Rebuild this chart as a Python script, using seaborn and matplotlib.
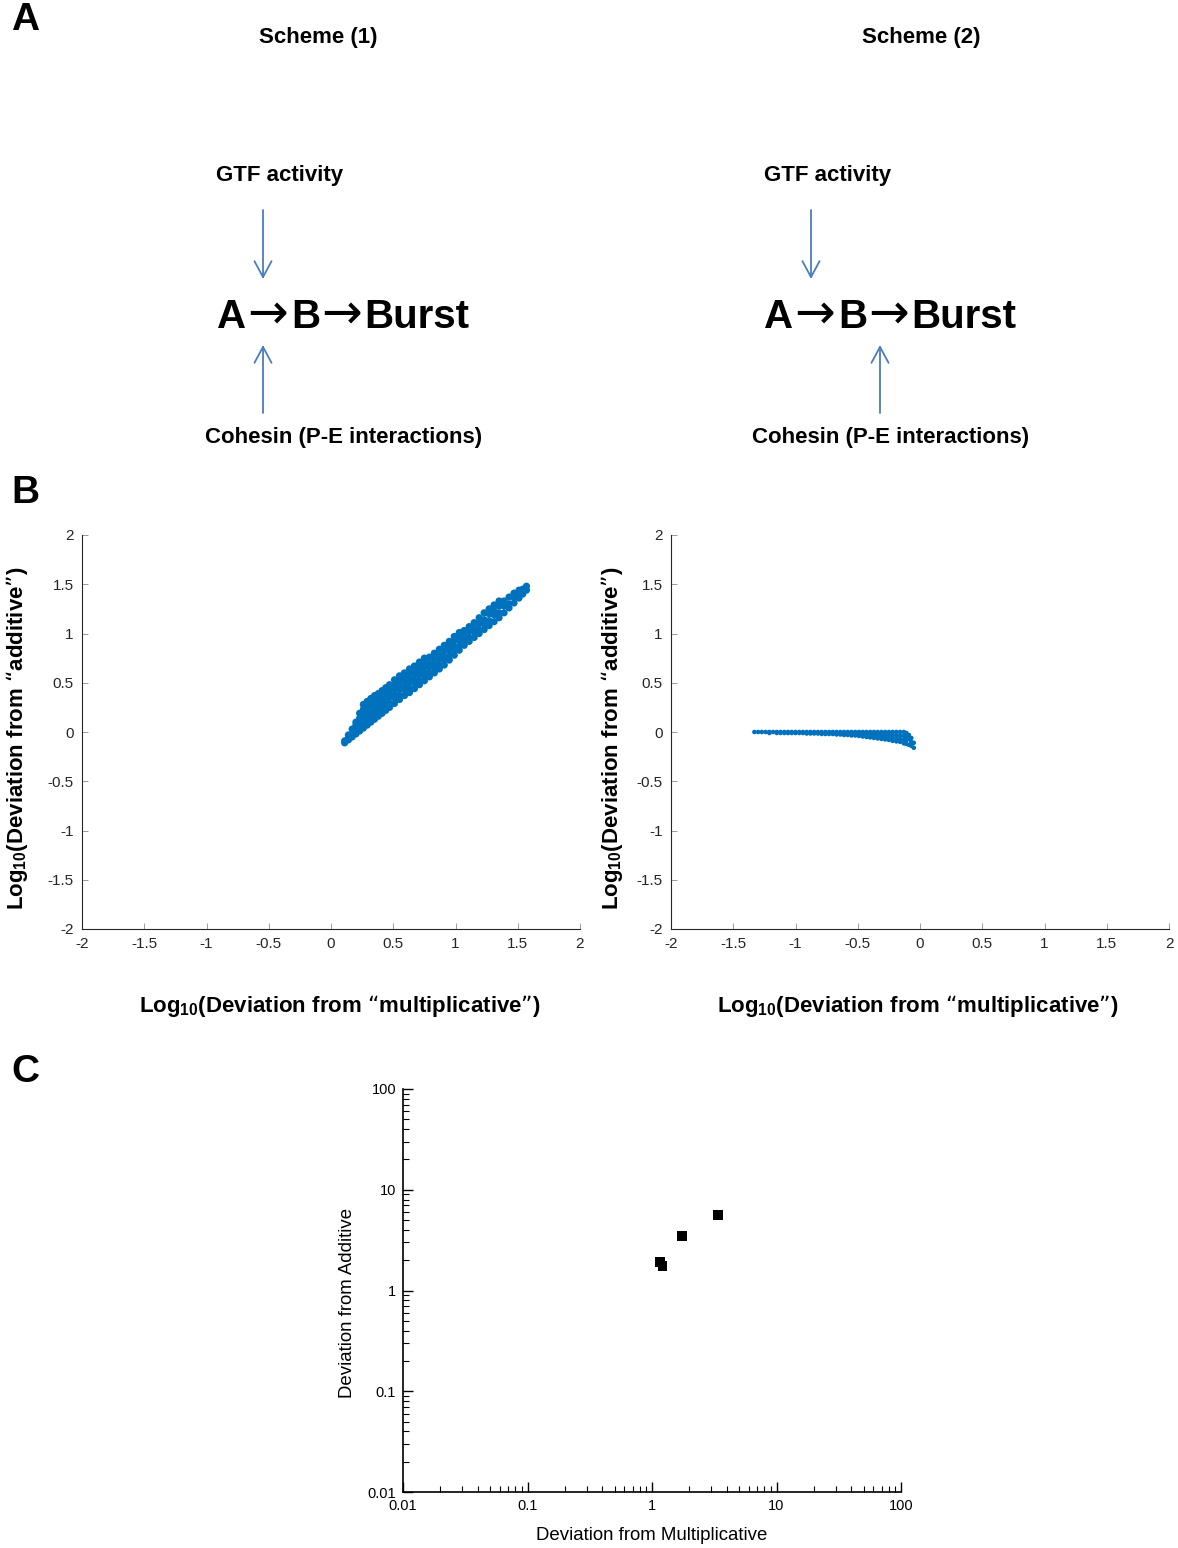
import matplotlib
matplotlib.use("Agg")
import matplotlib.pyplot as plt
import matplotlib.ticker as mticker
import seaborn as sns
import pandas as pd

# panel B, scheme (1): x column -> y values
left_cols_x = [0.11, 0.14, 0.17, 0.20, 0.23, 0.26, 0.29, 0.32, 0.35, 0.38, 0.41, 0.44, 0.47,
               0.51, 0.55, 0.59, 0.63, 0.67, 0.71, 0.75, 0.79, 0.83, 0.87, 0.91, 0.95, 0.99,
               1.03, 1.07, 1.11, 1.15, 1.19, 1.23, 1.27, 1.31, 1.35, 1.39, 1.43, 1.47, 1.51,
               1.54, 1.57]
left_cols_y = [
    [-0.11, -0.09], [-0.08, -0.06, -0.03], [-0.05, -0.02, 0.03], [-0.02, 0.02, 0.07, 0.10],
    [0.01, 0.06, 0.10, 0.14, 0.19], [0.04, 0.08, 0.13, 0.19, 0.23, 0.28],
    [0.07, 0.11, 0.17, 0.21, 0.27, 0.31], [0.10, 0.16, 0.20, 0.26, 0.29, 0.34],
    [0.13, 0.17, 0.23, 0.27, 0.33, 0.37], [0.16, 0.22, 0.25, 0.31, 0.35, 0.39],
    [0.19, 0.23, 0.29, 0.33, 0.38, 0.42], [0.22, 0.28, 0.31, 0.37, 0.41, 0.45],
    [0.25, 0.29, 0.35, 0.39, 0.44, 0.48], [0.29, 0.35, 0.38, 0.44, 0.48, 0.53],
    [0.33, 0.37, 0.43, 0.47, 0.53, 0.57], [0.37, 0.43, 0.46, 0.52, 0.56, 0.60],
    [0.40, 0.44, 0.50, 0.54, 0.60, 0.64], [0.44, 0.50, 0.53, 0.59, 0.63, 0.67],
    [0.48, 0.52, 0.58, 0.62, 0.67, 0.71], [0.52, 0.58, 0.61, 0.67, 0.70, 0.75],
    [0.56, 0.60, 0.66, 0.70, 0.76], [0.60, 0.66, 0.69, 0.75, 0.80],
    [0.64, 0.68, 0.74, 0.78, 0.84], [0.68, 0.74, 0.77, 0.83, 0.88],
    [0.73, 0.77, 0.83, 0.87, 0.92], [0.78, 0.84, 0.87, 0.93, 0.97],
    [0.83, 0.87, 0.93, 0.97, 1.01], [0.88, 0.94, 0.97, 1.03], [0.92, 0.96, 1.02, 1.07],
    [0.96, 1.02, 1.05, 1.11], [1.00, 1.04, 1.10, 1.16], [1.04, 1.10, 1.14, 1.21],
    [1.08, 1.13, 1.20, 1.25], [1.12, 1.19, 1.23, 1.29], [1.16, 1.21, 1.28, 1.33],
    [1.21, 1.28, 1.33], [1.26, 1.30, 1.37], [1.31, 1.37, 1.41], [1.36, 1.40, 1.44],
    [1.40, 1.45], [1.44, 1.48],
]

# panel B, scheme (2)
right_cols_x = [-1.33, -1.30, -1.27, -1.24, -1.21, -1.18, -1.15, -1.12, -1.09, -1.06, -1.03,
                -1.00, -0.97, -0.94, -0.91, -0.88, -0.85, -0.82, -0.79, -0.76, -0.73, -0.70,
                -0.67, -0.64, -0.61, -0.58, -0.55, -0.52, -0.49, -0.46, -0.43, -0.40, -0.37,
                -0.34, -0.31, -0.28, -0.25, -0.22, -0.19, -0.16, -0.13, -0.11, -0.09, -0.07,
                -0.05]
right_cols_y = [
    [0.0], [0.0], [0.0], [0.0], [0.0, -0.01], [0.0], [0.0, -0.01], [0.0, -0.01],
    [0.0, -0.01], [0.0, -0.01], [0.0, -0.01], [0.0, -0.01], [0.0, -0.01], [0.0, -0.01],
    [0.0, -0.015], [0.0, -0.015], [0.0, -0.015], [0.0, -0.015], [0.0, -0.02],
    [0.0, -0.02], [0.0, -0.02], [0.0, -0.01, -0.02], [0.0, -0.01, -0.025],
    [0.0, -0.01, -0.025], [0.0, -0.015, -0.03], [0.0, -0.015, -0.03], [0.0, -0.015, -0.035],
    [0.0, -0.02, -0.035], [0.0, -0.02, -0.04], [0.0, -0.02, -0.045], [0.0, -0.025, -0.05],
    [0.0, -0.025, -0.055], [0.0, -0.02, -0.04, -0.06], [0.0, -0.02, -0.045, -0.065],
    [0.0, -0.025, -0.05, -0.07], [0.0, -0.025, -0.05, -0.075], [0.0, -0.03, -0.055, -0.08],
    [0.0, -0.03, -0.06, -0.09], [0.0, -0.035, -0.065, -0.095], [0.0, -0.035, -0.07, -0.10],
    [0.0, -0.04, -0.08, -0.115], [-0.01, -0.045, -0.085, -0.12], [-0.03, -0.07, -0.13],
    [-0.06, -0.10, -0.14], [-0.11, -0.16],
]

# panel C
dev_mult = [3.39, 1.74, 1.16, 1.22]
dev_add = [5.61, 3.47, 1.92, 1.75]

b_ticks = [-2, -1.5, -1, -0.5, 0, 0.5, 1, 1.5, 2]
b_ticklabels = ["-2", "-1.5", "-1", "-0.5", "0", "0.5", "1", "1.5", "2"]
c_ticks = [0.01, 0.1, 1, 10, 100]
c_ticklabels = ["0.01", "0.1", "1", "10", "100"]


def flatten(cols_x, cols_y):
    xs, ys = [], []
    for x, col in zip(cols_x, cols_y):
        for y in col:
            xs.append(x)
            ys.append(y)
    return pd.DataFrame({"x": xs, "y": ys})


df_left = flatten(left_cols_x, left_cols_y)
df_right = flatten(right_cols_x, right_cols_y)
df_c = pd.DataFrame({"mult": dev_mult, "add": dev_add})

sns.set_theme(style="ticks")
plt.rcParams["font.family"] = ["Liberation Sans", "DejaVu Sans"]
plt.rcParams["mathtext.default"] = "regular"
plt.rcParams["axes.unicode_minus"] = False
plt.rcParams["text.color"] = "black"
plt.rcParams["axes.labelcolor"] = "black"

W, H = 1178, 1548
fig = plt.figure(figsize=(W / 100, H / 100), dpi=100)

# overlay in pixel coordinates for panel A and the panel letters
ov = fig.add_axes([0, 0, 1, 1], zorder=-1)
ov.set_xlim(0, W)
ov.set_ylim(H, 0)
ov.axis("off")

for lbl, (px, py) in zip("ABC", [(25, 20), (25, 493), (25, 1072)]):
    ov.text(px, py, lbl, fontsize=28, fontweight="bold", ha="center", va="center")

arrow_col = "#4a7ebb"
aprops = dict(arrowstyle="->,head_length=0.41,head_width=0.22", color=arrow_col,
              lw=1.3, mutation_scale=28, shrinkA=0, shrinkB=0)

schemes = [
    dict(title=(318, 37), gtf=(280, 176), x0=217, coh=(344, 438),
         down=(263, 210, 279), up=(263, 413, 345)),
    dict(title=(921, 37), gtf=(828, 176), x0=764, coh=(891, 437),
         down=(811, 210, 279), up=(880, 413, 345)),
]
base = 328
for i, s in enumerate(schemes):
    ov.text(*s["title"], f"Scheme ({i + 1})", fontsize=16, fontweight="bold",
            ha="center", va="center")
    ov.text(*s["gtf"], "GTF activity", fontsize=16, fontweight="bold",
            ha="center", va="center")
    ov.text(*s["coh"], "Cohesin (P-E interactions)", fontsize=16, fontweight="bold",
            ha="center", va="center")
    x0 = s["x0"]
    ov.text(x0, base, "A", fontsize=29, fontweight="bold", ha="left", va="baseline")
    ov.text(x0 + 51, base, "\u2192", fontsize=35, family="DejaVu Sans",
            ha="center", va="baseline")
    ov.text(x0 + 74, base, "B", fontsize=29, fontweight="bold", ha="left", va="baseline")
    ov.text(x0 + 125, base, "\u2192", fontsize=35, family="DejaVu Sans",
            ha="center", va="baseline")
    ov.text(x0 + 147, base, "Burst", fontsize=29, fontweight="bold", ha="left",
            va="baseline")
    dx, dy0, dy1 = s["down"]
    ov.annotate("", xy=(dx, dy1), xytext=(dx, dy0), arrowprops=aprops)
    ux, uy0, uy1 = s["up"]
    ov.annotate("", xy=(ux, uy1), xytext=(ux, uy0), arrowprops=aprops)

# panel B
blue = "#0072BD"
axis_dark = "#262626"
for left_px, df, ms, ylab_x, xlab_x in [(82, df_left, 27, -0.1305, 0.518),
                                        (671, df_right, 11, -0.1185, 0.496)]:
    ax = fig.add_axes([left_px / W, 1 - 929 / H, 498 / W, 394 / H])
    sns.scatterplot(data=df, x="x", y="y", ax=ax, color=blue, s=ms, linewidth=0,
                    edgecolor="none")
    ax.set_xlim(-2, 2)
    ax.set_ylim(-2, 2)
    ax.set_xticks(b_ticks)
    ax.set_xticklabels(b_ticklabels)
    ax.set_yticks(b_ticks)
    ax.set_yticklabels(b_ticklabels)
    ax.tick_params(direction="in", length=4, width=0.6, color="#8c8c8c",
                   labelsize=11, labelcolor=axis_dark, pad=6)
    for sp in ["top", "right"]:
        ax.spines[sp].set_visible(False)
    for sp in ["left", "bottom"]:
        ax.spines[sp].set_color(axis_dark)
        ax.spines[sp].set_linewidth(0.8)
    ax.set_xlabel("Log$_{10}$(Deviation from \u201cmultiplicative\u201d)", fontsize=16,
                  fontweight="bold", va="center")
    ax.set_ylabel("Log$_{10}$(Deviation from \u201cadditive\u201d)", fontsize=16,
                  fontweight="bold", va="center", ha="center")
    ax.xaxis.set_label_coords(xlab_x, -0.195)
    ax.yaxis.set_label_coords(ylab_x, 0.485)

# panel C
axc = fig.add_axes([403 / W, 1 - 1492 / H, 498 / W, 403 / H])
sns.scatterplot(data=df_c, x="mult", y="add", ax=axc, color="black", marker="s", s=45,
                linewidth=0, edgecolor="none")
axc.set_xscale("log")
axc.set_yscale("log")
axc.set_xlim(0.01, 100)
axc.set_ylim(0.01, 100)
axc.xaxis.set_major_locator(mticker.FixedLocator(c_ticks))
axc.xaxis.set_major_formatter(mticker.FixedFormatter(c_ticklabels))
axc.yaxis.set_major_locator(mticker.FixedLocator(c_ticks))
axc.yaxis.set_major_formatter(mticker.FixedFormatter(c_ticklabels))
subs = [2, 3, 4, 5, 6, 7, 8, 9]
axc.xaxis.set_minor_locator(mticker.LogLocator(base=10, subs=subs, numticks=20))
axc.yaxis.set_minor_locator(mticker.LogLocator(base=10, subs=subs, numticks=20))
axc.xaxis.set_minor_formatter(mticker.NullFormatter())
axc.yaxis.set_minor_formatter(mticker.NullFormatter())
axc.tick_params(which="major", direction="in", length=7, width=1, color="black",
                labelsize=10.5, labelcolor="black", pad=5)
axc.tick_params(which="minor", direction="in", length=4, width=0.8, color="black")
for sp in ["top", "right"]:
    axc.spines[sp].set_visible(False)
for sp in ["left", "bottom"]:
    axc.spines[sp].set_color("black")
    axc.spines[sp].set_linewidth(1.2)
axc.set_xlabel("Deviation from Multiplicative", fontsize=13.4, va="center")
axc.set_ylabel("Deviation from Additive", fontsize=13.4, va="center", ha="center")
axc.xaxis.set_label_coords(0.5, -0.109)
axc.yaxis.set_label_coords(-0.112, 0.469)

fig.savefig("out.png", dpi=100, facecolor="white")
